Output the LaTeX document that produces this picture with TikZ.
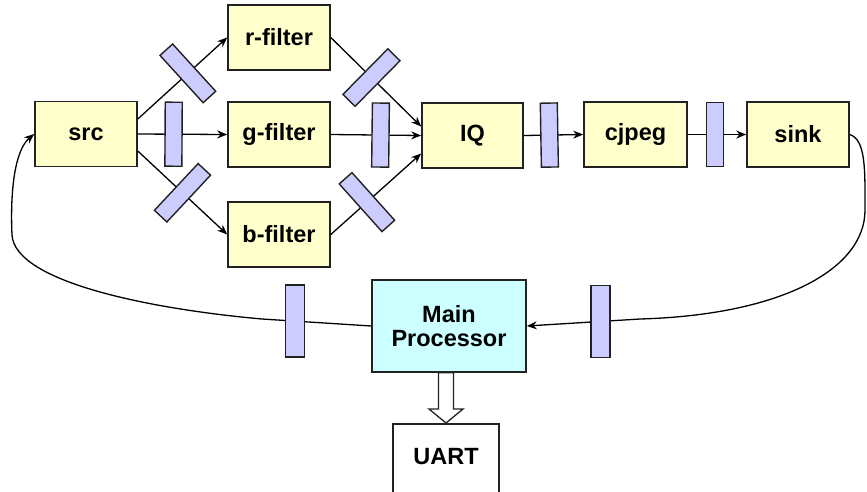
\documentclass[tikz,border=0pt]{standalone}
\usepackage{fontspec}
\setmainfont{Liberation Sans}
\usetikzlibrary{arrows.meta,calc}
\definecolor{procfill}{HTML}{FFFFCC}
\definecolor{chanfill}{HTML}{CCCCFF}
\definecolor{cpufill}{HTML}{CCFFFF}
\definecolor{edgecol}{HTML}{222222}
\tikzset{
  labelfont/.style={font=\bfseries\fontsize{23.5}{27}\selectfont},
  proc/.style={draw=edgecol, line width=1.6pt, fill=procfill,
    minimum width=102pt, minimum height=65pt, inner sep=0pt, labelfont},
  chanbase/.style={draw=edgecol, line width=1.4pt, fill=chanfill,
    minimum width=17pt, minimum height=64pt, inner sep=0pt},
  chan/.style={chanbase, sloped},
  fbchan/.style={chanbase, minimum width=19pt, minimum height=72pt},
  link/.style={line width=1.3pt, draw=black, -{Stealth[length=10pt,width=8pt]}},
  hollow/.style={line width=1.3pt, draw=edgecol, fill=white}
}
\begin{document}
\begin{tikzpicture}[x=1pt, y=-1pt]
  \useasboundingbox (0,0) rectangle (867,491);
  \clip (0,0) rectangle (867,491);

  % processing elements
  \node[proc] (src)  at (86,134)    {src};
  \node[proc] (rf)   at (279,37.5)  {r-filter};
  \node[proc] (gf)   at (279,134.5) {g-filter};
  \node[proc] (bf)   at (279,234.5) {b-filter};
  \node[proc, minimum width=101pt] (iq) at (472.5,135.5) {IQ};
  \node[proc, minimum width=103pt] (cj) at (635.5,134.5) {cjpeg};
  \node[proc] (sink) at (798,134.5) {sink};
  \node[proc, fill=cpufill, minimum width=154pt, minimum height=92pt,
        align=center] (mp) at (449,326) {Main\\[-3pt]Processor};
  \node[proc, fill=white, minimum width=106pt, minimum height=74pt,
        anchor=north] (uart) at (446,423) {};
  \node[labelfont] (uartlbl) at (446,456.5) {UART};

  % fork from src to the three filters
  \draw[link] ([yshift=15pt]src.east) -- node[chan, pos=0.56] (c1) {} (rf.west);
  \draw[link] (src.east) -- node[chan, pos=0.40] (c2) {} (gf.west);
  \draw[link] ([yshift=-17pt]src.east) -- node[chan, pos=0.50] (c3) {} (bf.west);

  % join of the filters into IQ
  \draw[link] (rf.east) -- node[chan, pos=0.45] (c4) {} ([yshift=9pt]iq.west);
  \draw[link] (gf.east) -- node[chan, pos=0.55] (c5) {} (iq.west);
  \draw[link] (bf.east) -- node[chan, pos=0.40] (c6) {} ([yshift=-18pt]iq.west);

  % rest of the pipeline
  \draw[link] (iq.east) -- node[chan, pos=0.43] (c7) {} (cj.west);
  \draw[link] (cj.east) -- node[chan, pos=0.47] (c8) {} (sink.west);

  % feedback through the main processor
  \draw[link] (sink.east) .. controls (866,140) and (865,170) .. (865,210)
    .. controls (865,270) and (780,315) .. (640,319)
    -- node[fbchan, pos=0.35] (c9) {} (mp.east);
  \draw[link] (mp.west) -- node[fbchan, pos=0.70] (c10) {} (262,319)
    .. controls (150,309) and (15,282) .. (12,235)
    .. controls (10,190) and (15,150) .. (src.west);

  % wide hollow arrow down to the UART
  \coordinate (ms) at (mp.south -| uart.north);
  \draw[hollow] (uart.north) -- ++(-17,-14) -- ++(9.5,0)
    -- ($(ms)+(-7.5,0)$) -- ($(ms)+(7.5,0)$)
    -- ($(uart.north)+(7.5,-14)$) -- ++(9.5,0) -- cycle;
\end{tikzpicture}
\end{document}
